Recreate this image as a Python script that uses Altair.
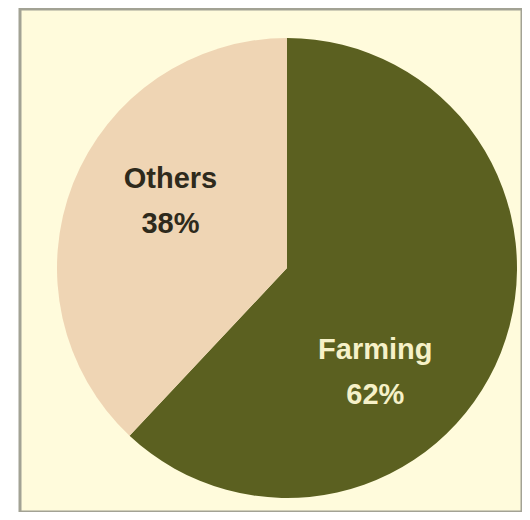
import altair as alt
import pandas as pd

categories = ["Farming", "Others"]
shares = [62, 38]
colors = ["#5b6020", "#efd5b4"]
label_colors = ["#f6f1c8", "#2e2a1c"]

df = pd.DataFrame({"category": categories, "share": shares})

CX, CY = 267, 259

base = alt.Chart(df).encode(
    theta=alt.Theta("share:Q", stack=True),
    order=alt.Order("category:N", sort="ascending"),
)

arcs = base.mark_arc(radius=230, stroke=None).encode(
    color=alt.Color("category:N",
                    scale=alt.Scale(domain=categories, range=colors),
                    legend=None),
    x=alt.value(CX),
    y=alt.value(CY),
)


def label_layer(cat, color, radius, dx, dy):
    return base.transform_calculate(
        label=f"datum.category == '{cat}' ? [datum.category, datum.share + '%'] : ''"
    ).mark_text(
        radius=radius, dx=dx, dy=dy, font="Liberation Sans", fontWeight="bold",
        fontSize=29, lineHeight=45, align="center", baseline="middle", color=color
    ).encode(
        text=alt.Text("label:N"),
        x=alt.value(CX),
        y=alt.value(CY),
    )


farm_lbl = label_layer("Farming", label_colors[0], 124, -27, 36)
oth_lbl = label_layer("Others", label_colors[1], 135, 9, -39)

chart = alt.layer(arcs, farm_lbl, oth_lbl).properties(
    width=502, height=503,
    padding={"left": 12, "top": 1, "right": 0, "bottom": 0},
    autosize=alt.AutoSizeParams(type="none"),
    background="white",
).configure_view(
    fill="#fffbdc", stroke="#a2a294", strokeWidth=3
)

chart.save("out.html", embed_options={"renderer": "svg", "actions": False})
